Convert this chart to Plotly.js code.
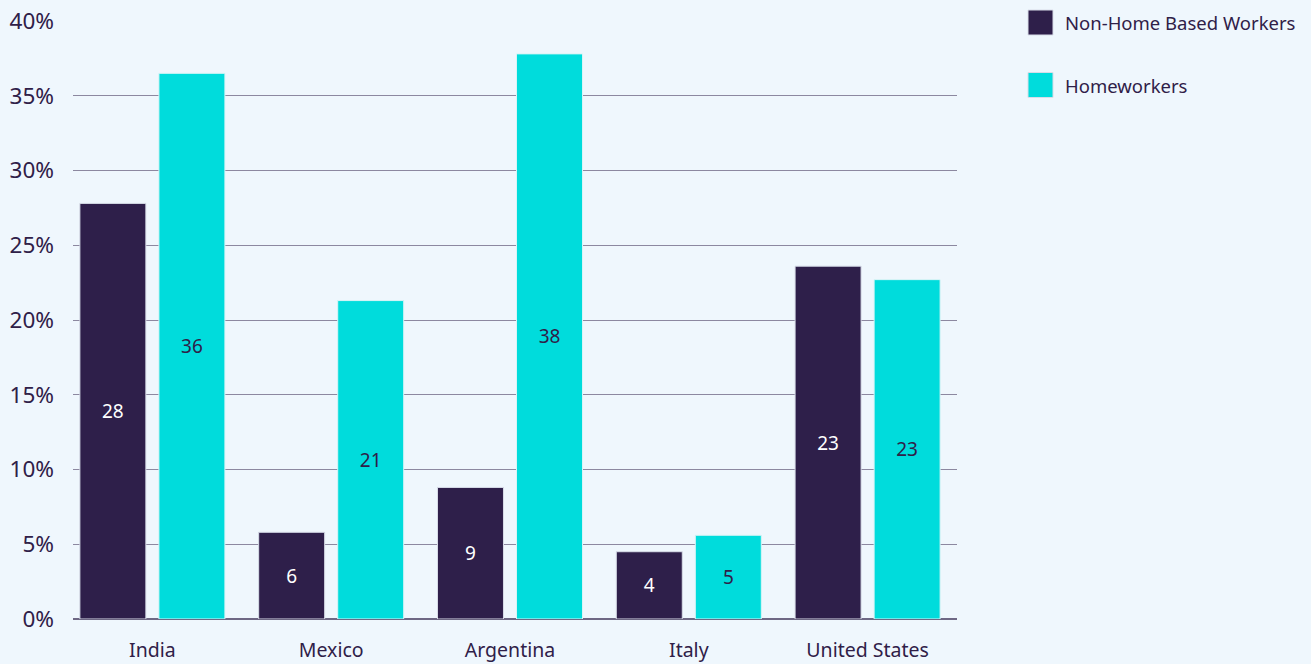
<!DOCTYPE html>
<html>
<head>
<meta charset="utf-8">
<script src="https://cdn.plot.ly/plotly-3.0.1.min.js"></script>
<style>
html,body{margin:0;padding:0;background:#eff7fd;}
#chart{width:1311px;height:664px;}
</style>
</head>
<body>
<div id="chart"></div>
<script>
const countries = ["India", "Mexico", "Argentina", "Italy", "United States"];
const nonHomeBased = [27.8, 5.8, 8.8, 4.5, 23.6];
const homeworkers = [36.5, 21.3, 37.8, 5.6, 22.7];
const nonHomeLabels = ["28", "6", "9", "4", "23"];
const homeLabels = ["36", "21", "38", "5", "23"];
const seriesNames = ["Non-Home Based Workers", "Homeworkers"];
const seriesColors = ["#2e1f4a", "#00dcdc"];
const yTicks = [0, 5, 10, 15, 20, 25, 30, 35, 40];
const yTickText = yTicks.map(v => v + "%");

const textColor = "#2f2048";
const font = "Noto Sans, Open Sans, sans-serif";

const traces = [
  {
    type: "bar", name: seriesNames[0], x: countries, y: nonHomeBased,
    text: nonHomeLabels, textposition: "inside", insidetextanchor: "middle",
    textangle: 0, constraintext: "none",
    textfont: {family: font, size: 19, color: "#ffffff"},
    marker: {color: seriesColors[0], line: {color: "#d8dde8", width: 1}},
    hoverinfo: "x+y", showlegend: false
  },
  {
    type: "bar", name: seriesNames[1], x: countries, y: homeworkers,
    text: homeLabels, textposition: "inside", insidetextanchor: "middle",
    textangle: 0, constraintext: "none",
    textfont: {family: font, size: 19, color: textColor},
    marker: {color: seriesColors[1], line: {color: "#d8f4f6", width: 1}},
    hoverinfo: "x+y", showlegend: false
  }
];

const shapes = [];
const annotations = [];
const legendY = [22.5, 85];
for (let i = 0; i < seriesNames.length; i++) {
  shapes.push({
    type: "rect", xref: "paper", yref: "paper",
    x0: (1028 - 73) / 884, x1: (1053 - 73) / 884,
    y0: (619 - (legendY[i] + 12.5)) / 598, y1: (619 - (legendY[i] - 12.5)) / 598,
    fillcolor: seriesColors[i], line: {color: "#d8dde8", width: 1}
  });
  annotations.push({
    xref: "paper", yref: "paper",
    x: (1063 - 73) / 884, y: (619 - legendY[i]) / 598,
    xanchor: "left", yanchor: "middle", showarrow: false,
    text: seriesNames[i], font: {family: font, size: 18.5, color: textColor}
  });
}

const layout = {
  width: 1311, height: 664,
  margin: {l: 73, r: 354, t: 21, b: 45, pad: 0},
  paper_bgcolor: "#eff7fd", plot_bgcolor: "#eff7fd",
  font: {family: font, color: textColor, size: 20},
  barmode: "group", bargap: 0.116, bargroupgap: 0.165,
  showlegend: false,
  xaxis: {
    type: "category", range: [-0.444, 4.5],
    showgrid: false, zeroline: false, showline: false,
    ticks: "", ticklabelstandoff: 17,
    tickfont: {family: font, size: 19.5, color: textColor},
    fixedrange: true
  },
  yaxis: {
    range: [0, 40], tickmode: "array", tickvals: yTicks, ticktext: yTickText,
    showgrid: true, gridcolor: "#8c88a0", gridwidth: 1,
    zeroline: true, zerolinecolor: "#6e6884", zerolinewidth: 2,
    showline: false, ticks: "", ticklabelstandoff: 18,
    tickfont: {family: font, size: 22.5, color: textColor},
    fixedrange: true
  },
  shapes: shapes,
  annotations: annotations
};

Plotly.newPlot("chart", traces, layout, {displayModeBar: false, staticPlot: true});
</script>
</body>
</html>
